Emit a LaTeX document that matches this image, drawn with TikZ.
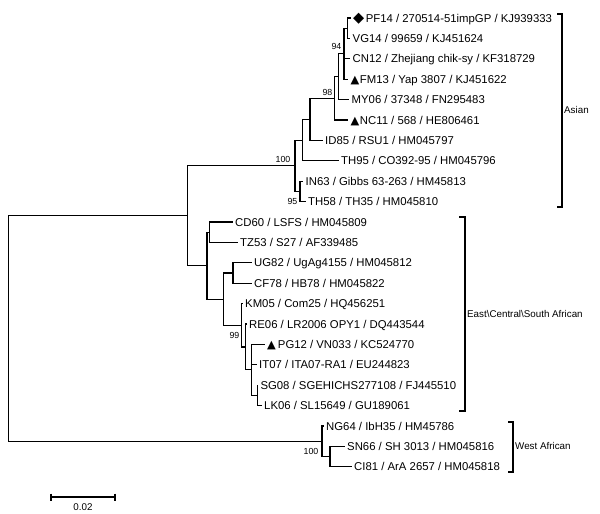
\documentclass[tikz,border=0pt]{standalone}
\usepackage{fontspec}
\setmainfont{Liberation Sans}
\newfontfamily\symfont{DejaVu Sans}
\usetikzlibrary{positioning}

\begin{document}
\begin{tikzpicture}[x=1pt, y=-1pt,
    branch/.style={line width=1.1pt},
    taxon/.style={inner sep=0pt, font=\fontsize{11.35}{13.6}\selectfont, text height=8.1pt, text depth=0pt},
    boot/.style={anchor=east, inner sep=0pt, font=\fontsize{8.8}{10.5}\selectfont},
    clade/.style={anchor=west, inner sep=0pt, font=\fontsize{9.8}{11.8}\selectfont},
    bracket/.style={line width=1.1pt}]
    \useasboundingbox (0,0) rectangle (600,514);

    \coordinate (root) at (8.5,328.5);
    \coordinate (asec) at (187.5,215.7);
    \coordinate (asia) at (295,165.7);
    \coordinate (n95) at (300,191.4);
    \coordinate (asb) at (302.3,140.1);
    \coordinate (asc) at (310,119.4);
    \coordinate (n98) at (334.3,98.3);
    \coordinate (asm) at (338.3,76.6);
    \coordinate (n94) at (344,53.7);
    \coordinate (pv) at (347.3,28.2);
    \coordinate (ecsa) at (207,265.7);
    \coordinate (ct) at (209.7,232.2);
    \coordinate (ecz) at (223.7,299.2);
    \coordinate (uc) at (233,273);
    \coordinate (n99) at (241.7,325.3);
    \coordinate (ecy) at (245.7,347);
    \coordinate (ecx) at (251.7,369.9);
    \coordinate (sl) at (257.3,395.4);
    \coordinate (wa) at (322,441.3);
    \coordinate (sc) at (330,456.6);

    \coordinate (pf14) at (350.5,18);
    \coordinate (vg14) at (350,38.4);
    \coordinate (cn12) at (350,58.8);
    \coordinate (fm13) at (348,79.2);
    \coordinate (my06) at (349,99.6);
    \coordinate (nc11) at (348,120);
    \coordinate (id85) at (322.5,140.4);
    \coordinate (th95) at (338.5,160.8);
    \coordinate (in63) at (303,181.2);
    \coordinate (th58) at (305.5,201.6);
    \coordinate (cd60) at (232.5,222);
    \coordinate (tz53) at (237.5,242.4);
    \coordinate (ug82) at (251.5,262.8);
    \coordinate (cf78) at (251.5,283.2);
    \coordinate (km05) at (242.5,303.6);
    \coordinate (re06) at (246.5,324);
    \coordinate (pg12) at (264.5,344.4);
    \coordinate (it07) at (256.5,364.8);
    \coordinate (sg08) at (257.8,385.2);
    \coordinate (lk06) at (261.5,405.6);
    \coordinate (ng64) at (323.5,426);
    \coordinate (sn66) at (344.5,446.4);
    \coordinate (ci81) at (351.5,466.8);

    \draw[branch] (root) |- (asec) (root) |- (wa);
    \draw[branch] (asec) |- (asia) (asec) |- (ecsa);
    \draw[branch] (asia) |- (asb) (asia) |- (n95);
    \draw[branch] (n95) |- (in63) (n95) |- (th58);
    \draw[branch] (asb) |- (asc) (asb) |- (th95);
    \draw[branch] (asc) |- (n98) (asc) |- (id85);
    \draw[branch] (n98) |- (asm) (n98) |- (nc11);
    \draw[branch] (asm) |- (n94) (asm) |- (my06);
    \draw[branch] (n94) |- (pv) (n94) |- (cn12) (n94) |- (fm13);
    \draw[branch] (pv) |- (pf14) (pv) |- (vg14);
    \draw[branch] (ecsa) |- (ct) (ecsa) |- (ecz);
    \draw[branch] (ct) |- (cd60) (ct) |- (tz53);
    \draw[branch] (ecz) |- (uc) (ecz) |- (n99);
    \draw[branch] (uc) |- (ug82) (uc) |- (cf78);
    \draw[branch] (n99) |- (km05) (n99) |- (ecy);
    \draw[branch] (ecy) |- (re06) (ecy) |- (ecx);
    \draw[branch] (ecx) |- (pg12) (ecx) |- (it07) (ecx) |- (sl);
    \draw[branch] (sl) |- (sg08) (sl) |- (lk06);
    \draw[branch] (wa) |- (ng64) (wa) |- (sc);
    \draw[branch] (sc) |- (sn66) (sc) |- (ci81);

    \node[taxon, right=2.5pt of pf14] (pf14t) {\raisebox{-0.6pt}{\symfont\fontsize{14.5}{14.5}\selectfont ◆}\hspace{1.5pt}PF14 / 270514-51impGP / KJ939333};
    \node[taxon, right=2.5pt of vg14] (vg14t) {VG14 / 99659 / KJ451624};
    \node[taxon, right=2.5pt of cn12] (cn12t) {CN12 / Zhejiang chik-sy / KF318729};
    \node[taxon, right=2.5pt of fm13] (fm13t) {{\symfont ▲}\hspace{0.5pt}FM13 / Yap 3807 / KJ451622};
    \node[taxon, right=2.5pt of my06] (my06t) {MY06 / 37348 / FN295483};
    \node[taxon, right=2.5pt of nc11] (nc11t) {{\symfont ▲}\hspace{0.5pt}NC11 / 568 / HE806461};
    \node[taxon, right=2.5pt of id85] (id85t) {ID85 / RSU1 / HM045797};
    \node[taxon, right=2.5pt of th95] (th95t) {TH95 / CO392-95 / HM045796};
    \node[taxon, right=2.5pt of in63] (in63t) {IN63 / Gibbs 63-263 / HM45813};
    \node[taxon, right=2.5pt of th58] (th58t) {TH58 / TH35 / HM045810};
    \node[taxon, right=2.5pt of cd60] (cd60t) {CD60 / LSFS / HM045809};
    \node[taxon, right=2.5pt of tz53] (tz53t) {TZ53 / S27 / AF339485};
    \node[taxon, right=2.5pt of ug82] (ug82t) {UG82 / UgAg4155 / HM045812};
    \node[taxon, right=2.5pt of cf78] (cf78t) {CF78 / HB78 / HM045822};
    \node[taxon, right=2.5pt of km05] (km05t) {KM05 / Com25 / HQ456251};
    \node[taxon, right=2.5pt of re06] (re06t) {RE06 / LR2006 OPY1 / DQ443544};
    \node[taxon, right=2.5pt of pg12] (pg12t) {{\symfont ▲}\hspace{2pt}PG12 / VN033 / KC524770};
    \node[taxon, right=2.5pt of it07] (it07t) {IT07 / ITA07-RA1 / EU244823};
    \node[taxon, right=2.5pt of sg08] (sg08t) {SG08 / SGEHICHS277108 / FJ445510};
    \node[taxon, right=2.5pt of lk06] (lk06t) {LK06 / SL15649 / GU189061};
    \node[taxon, right=2.5pt of ng64] (ng64t) {NG64 / IbH35 / HM45786};
    \node[taxon, right=2.5pt of sn66] (sn66t) {SN66 / SH 3013 / HM045816};
    \node[taxon, right=2.5pt of ci81] (ci81t) {CI81 / ArA 2657 / HM045818};

    \node[boot] (b94) at (341.5,46.7) {94};
    \node[boot] (b98) at (332.5,92.7) {98};
    \node[boot] (b100a) at (290.5,159.3) {100};
    \node[boot] (b95) at (297.5,201) {95};
    \node[boot] (b99) at (239.5,335) {99};
    \node[boot] (b100w) at (318.5,451) {100};

    \draw[bracket] (557,14) -- (562,14) -- (562,207) -- (557,207);
    \node[clade] (asian) at (564,110) {Asian};
    \draw[bracket] (459,217) -- (465,217) -- (465,411) -- (459,411);
    \node[clade] (ecsal) at (467,314) {East\textbackslash Central\textbackslash South African};
    \draw[bracket] (508,422) -- (513,422) -- (513,472) -- (508,472);
    \node[clade] (west) at (515,446) {West African};

    \coordinate (sb1) at (51,497);
    \coordinate (sb2) at (115,497);
    \draw[bracket] (sb1) -- (sb2);
    \draw[bracket] ([yshift=3.5pt]sb1) -- ([yshift=-3.5pt]sb1);
    \draw[bracket] ([yshift=3.5pt]sb2) -- ([yshift=-3.5pt]sb2);
    \node[clade, anchor=center] (sbl) at (83,507.5) {0.02};
\end{tikzpicture}
\end{document}
